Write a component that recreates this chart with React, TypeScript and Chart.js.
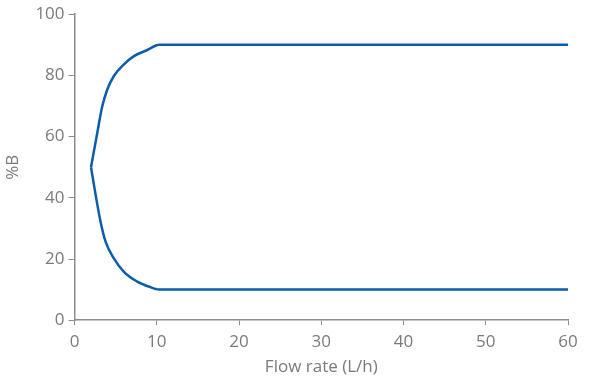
import React, { useEffect, useRef } from "react";
import { Chart, registerables } from "chart.js";

Chart.register(...registerables);

const upperX = [2, 2.76, 3.37, 3.98, 4.78, 6.0, 7.22, 8.85, 10.3, 60];
const upperY = [50, 61.2, 69.9, 75.4, 79.8, 83.6, 86.3, 88.3, 90, 90];
const lowerX = [2, 2.56, 3.16, 3.77, 4.78, 6.0, 7.63, 9.0, 10.3, 60];
const lowerY = [50, 41, 32.2, 25.7, 20.2, 15.8, 12.6, 11.0, 10, 10];
const xTicks = [0, 10, 20, 30, 40, 50, 60];
const yTicks = [0, 20, 40, 60, 80, 100];

const LINE = "#0a5dab";
const AXIS = "#8c8c8c";
const TEXT = "#7a7a7a";
const FONT = "'Open Sans', sans-serif";

export default function App() {
  const ref = useRef<HTMLCanvasElement>(null);
  useEffect(() => {
    const ctx = ref.current!;
    const chart = new Chart(ctx, {
      type: "line",
      data: {
        datasets: [
          {
            data: upperX.map((x, i) => ({ x, y: upperY[i] })),
            borderColor: LINE,
            borderWidth: 2.5,
            pointRadius: 0,
            cubicInterpolationMode: "monotone",
          },
          {
            data: lowerX.map((x, i) => ({ x, y: lowerY[i] })),
            borderColor: LINE,
            borderWidth: 2.5,
            pointRadius: 0,
            cubicInterpolationMode: "monotone",
          },
        ],
      },
      options: {
        animation: false,
        responsive: false,
        maintainAspectRatio: false,
        layout: { padding: { left: 3, right: 27, top: 7, bottom: 9 } },
        plugins: { legend: { display: false }, tooltip: { enabled: false } },
        scales: {
          x: {
            type: "linear",
            min: 0,
            max: 60,
            afterBuildTicks: (s: any) => {
              s.ticks = xTicks.map((v) => ({ value: v }));
            },
            grid: { drawOnChartArea: false, drawTicks: true, tickLength: 5, color: AXIS },
            border: { display: true, color: AXIS, width: 1.5 },
            ticks: { color: TEXT, font: { family: FONT, size: 17 }, padding: 7 },
            title: {
              display: true,
              text: "Flow rate (L/h)",
              color: TEXT,
              font: { family: FONT, size: 17 },
              padding: { top: -3, bottom: 0 },
            },
          },
          y: {
            min: 0,
            max: 100,
            afterBuildTicks: (s: any) => {
              s.ticks = yTicks.map((v) => ({ value: v }));
            },
            grid: { drawOnChartArea: false, drawTicks: true, tickLength: 6, color: AXIS },
            border: { display: true, color: AXIS, width: 1.5 },
            ticks: { color: TEXT, font: { family: FONT, size: 17 }, padding: 4 },
            title: {
              display: true,
              text: "%B",
              color: TEXT,
              font: { family: FONT, size: 17 },
              padding: { top: 0, bottom: 8 },
            },
          },
        },
      },
    });
    return () => chart.destroy();
  }, []);
  return (
    <div style={{ position: "absolute", left: 0, top: 0, width: 595, height: 386, background: "#fff" }}>
      <canvas ref={ref} width={595} height={386} />
    </div>
  );
}
